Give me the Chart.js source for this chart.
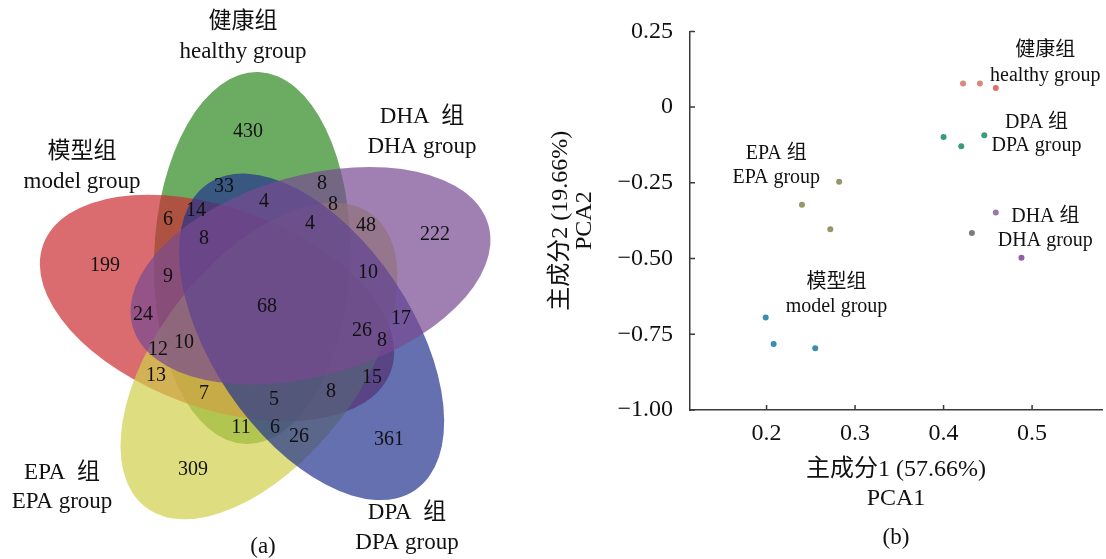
<!DOCTYPE html>
<html><head><meta charset="utf-8">
<script src="https://cdn.jsdelivr.net/npm/chart.js@4"></script>
<style>
html,body{margin:0;padding:0;background:#fff;}
#wrap{position:relative;width:1106px;height:559px;overflow:hidden;background:#fff;}
#venn{position:absolute;left:0;top:0;}
#pca{position:absolute;left:540px;top:0;}
</style></head><body>
<div id="wrap"><canvas id="venn" width="540" height="559"></canvas><canvas id="pca" width="566" height="559"></canvas></div>
<script>
// ---------------- Venn data (panel a) ----------------
const vennSetZh = ['健康组', '模型组', 'EPA  组', 'DPA  组', 'DHA  组'];
const vennSetEn = ['healthy group', 'model group', 'EPA group', 'DPA group', 'DHA group'];
// ellipse geometry in panel coordinates (drawing order: healthy, model, EPA, DPA, DHA)
const ellCx  = [252, 217, 259, 311.6, 310.5];
const ellCy  = [258, 308, 361, 336.8, 275.7];
const ellA   = [186, 185, 185, 185, 185];
const ellB   = [98, 100, 100, 100, 100];
const ellRot = [-88, 200, 128, 56, -16];
const ellColor = ['rgba(45,137,31,0.7)', 'rgba(202,45,51,0.7)', 'rgba(208,208,74,0.7)', 'rgba(34,51,142,0.7)', 'rgba(119,74,145,0.7)'];
// set-name label anchors
const setLabelX  = [243, 82, 62, 407, 422];
const setLabelY1 = [22, 152, 473, 513, 117];
const setLabelY2 = [52, 182, 502, 543, 147];
// region counts and their anchors
const vennCounts = [430, 33, 8, 8, 4, 4, 48, 222, 6, 14, 8, 199, 9, 24, 12, 10, 13, 10, 68, 26, 8, 17, 15, 7, 5, 8, 11, 6, 26, 361, 309];
const vennLabelX = [248, 224, 322, 333, 264, 310, 366, 435, 168, 196, 204, 105, 168, 143, 158, 184, 156, 368, 267, 362, 382, 401, 372, 204, 274, 331, 241, 275, 299, 389, 193];
const vennLabelY = [132, 187, 184, 205, 202, 224, 226, 235, 220, 211, 239, 266, 277, 315, 350, 343, 376, 273, 307, 331, 341, 319, 378, 394, 400, 392, 428, 428, 437, 440, 470];

// ---------------- PCA data (panel b) ----------------
const pcaGroupZh = ['健康组', 'DPA 组', 'DHA 组', 'EPA 组', '模型组'];
const pcaGroupEn = ['healthy group', 'DPA group', 'DHA group', 'EPA group', 'model group'];
const healthyPC1 = [0.422, 0.441, 0.459];
const healthyPC2 = [0.078, 0.078, 0.063];
const dpaPC1 = [0.400, 0.420, 0.446];
const dpaPC2 = [-0.099, -0.129, -0.093];
const dhaPC1 = [0.459, 0.432, 0.488];
const dhaPC2 = [-0.348, -0.416, -0.497];
const epaPC1 = [0.282, 0.240, 0.272];
const epaPC2 = [-0.246, -0.322, -0.403];
const modelPC1 = [0.199, 0.208, 0.255];
const modelPC2 = [-0.695, -0.782, -0.796];
const groupLabelX  = [0.515, 0.505, 0.515, 0.211, 0.279];
const groupLabelY1 = [0.185, -0.051, -0.362, -0.155, -0.579];
const groupLabelY2 = [0.104, -0.129, -0.440, -0.233, -0.660];
const xTicks = [0.2, 0.3, 0.4, 0.5];
const yTicks = [0.25, 0, -0.25, -0.5, -0.75, -1.0];

const F = "'Liberation Serif', 'Noto Sans CJK SC', serif";
const TXT = '#111';

// ---------------- Venn chart ----------------
const vennPlugin = {
  id: 'vennPlugin',
  beforeDatasetsDraw(chart) {
    const ctx = chart.ctx, xs = chart.scales.x, ys = chart.scales.y;
    const sx = Math.abs(xs.getPixelForValue(1) - xs.getPixelForValue(0));
    const sy = Math.abs(ys.getPixelForValue(1) - ys.getPixelForValue(0));
    ctx.save();
    for (let i = 0; i < ellCx.length; i++) {
      ctx.beginPath();
      ctx.ellipse(xs.getPixelForValue(ellCx[i]), ys.getPixelForValue(ellCy[i]),
        ellA[i] * sx, ellB[i] * sy, ellRot[i] * Math.PI / 180, 0, Math.PI * 2);
      ctx.fillStyle = ellColor[i];
      ctx.fill();
    }
    ctx.restore();
  },
  afterDatasetsDraw(chart) {
    const ctx = chart.ctx, xs = chart.scales.x, ys = chart.scales.y;
    ctx.save();
    ctx.fillStyle = TXT;
    ctx.textAlign = 'center';
    ctx.textBaseline = 'middle';
    ctx.font = "20px " + F;
    const meta = chart.getDatasetMeta(0);
    meta.data.forEach((pt, i) => ctx.fillText(String(vennCounts[i]), pt.x, pt.y));
    ctx.font = "23px " + F;
    for (let i = 0; i < vennSetZh.length; i++) {
      const px = xs.getPixelForValue(setLabelX[i]);
      ctx.fillText(vennSetZh[i], px, ys.getPixelForValue(setLabelY1[i]));
      ctx.fillText(vennSetEn[i], px, ys.getPixelForValue(setLabelY2[i]));
    }
    ctx.fillText('(a)', xs.getPixelForValue(263), ys.getPixelForValue(547));
    ctx.restore();
  }
};

new Chart(document.getElementById('venn'), {
  type: 'scatter',
  data: { datasets: [{ data: vennCounts.map((c, i) => ({ x: vennLabelX[i], y: vennLabelY[i] })), pointRadius: 0 }] },
  options: {
    responsive: false, animation: false, events: [], devicePixelRatio: 1,
    layout: { padding: 0 },
    plugins: { legend: { display: false }, tooltip: { enabled: false } },
    scales: {
      x: { type: 'linear', min: 0, max: 540, display: false },
      y: { type: 'linear', min: 0, max: 559, reverse: true, display: false }
    }
  },
  plugins: [vennPlugin]
});

// ---------------- PCA chart ----------------
const toPts = (xs, ys) => xs.map((v, i) => ({ x: v, y: ys[i] }));
const pcaPlugin = {
  id: 'pcaPlugin',
  afterDraw(chart) {
    const ctx = chart.ctx, xs = chart.scales.x, ys = chart.scales.y;
    ctx.save();
    ctx.strokeStyle = '#3a3a3a';
    ctx.lineWidth = 1.5;
    ctx.beginPath();
    xTicks.forEach(v => { const p = xs.getPixelForValue(v); ctx.moveTo(p, xs.top); ctx.lineTo(p, xs.top - 5); });
    yTicks.forEach(v => { const p = ys.getPixelForValue(v); ctx.moveTo(ys.right, p); ctx.lineTo(ys.right + 5, p); });
    ctx.stroke();
    ctx.fillStyle = TXT;
    ctx.textAlign = 'center';
    ctx.textBaseline = 'middle';
    ctx.font = "20px " + F;
    for (let i = 0; i < pcaGroupZh.length; i++) {
      const px = xs.getPixelForValue(groupLabelX[i]);
      ctx.fillText(pcaGroupZh[i], px, ys.getPixelForValue(groupLabelY1[i]));
      ctx.fillText(pcaGroupEn[i], px, ys.getPixelForValue(groupLabelY2[i]));
    }
    ctx.font = "23px " + F;
    ctx.fillText('(b)', (xs.left + xs.right) / 2, 538);
    ctx.restore();
  }
};

new Chart(document.getElementById('pca'), {
  type: 'scatter',
  data: {
    datasets: [
      { label: pcaGroupEn[0], data: toPts(healthyPC1, healthyPC2), backgroundColor: ['#d68a7e', '#d68a7e', '#d8756a'] },
      { label: pcaGroupEn[1], data: toPts(dpaPC1, dpaPC2), backgroundColor: '#3a9a80' },
      { label: pcaGroupEn[2], data: toPts(dhaPC1, dhaPC2), backgroundColor: ['#9a7aa6', '#7d7d80', '#9060a2'] },
      { label: pcaGroupEn[3], data: toPts(epaPC1, epaPC2), backgroundColor: '#96966a' },
      { label: pcaGroupEn[4], data: toPts(modelPC1, modelPC2), backgroundColor: '#3a8fae' }
    ]
  },
  options: {
    responsive: false, animation: false, events: [], devicePixelRatio: 1,
    layout: { padding: { top: 24, right: 0, bottom: 0, left: 0 } },
    elements: { point: { radius: 3, borderWidth: 0 } },
    plugins: { legend: { display: false }, tooltip: { enabled: false } },
    scales: {
      x: {
        type: 'linear', min: 0.1135, max: 0.579,
        afterBuildTicks: s => { s.ticks = xTicks.map(v => ({ value: v })); },
        afterFit: s => { s.height = 149; },
        grid: { display: false, drawTicks: false },
        border: { display: true, color: '#3a3a3a', width: 1.5 },
        ticks: { padding: 9, color: TXT, font: { family: F, size: 24 }, maxRotation: 0, autoSkip: false,
          callback: v => v.toFixed(1) },
        title: { display: true, text: ['主成分1 (57.66%)', 'PCA1'], color: TXT,
          font: { family: F, size: 24, lineHeight: '29px' }, padding: { top: 0, bottom: 45.5 } }
      },
      y: {
        type: 'linear', min: -1, max: 0.25,
        afterBuildTicks: s => { s.ticks = yTicks.map(v => ({ value: v })); },
        afterFit: s => { s.width = 150; },
        grid: { display: false, drawTicks: false },
        border: { display: true, color: '#3a3a3a', width: 1.5 },
        ticks: { padding: 17, color: TXT, font: { family: F, size: 24 }, autoSkip: false,
          callback: v => (Math.abs(v) < 1e-9 ? '0' : v.toFixed(2).replace('-', '\u2212')) },
        title: { display: true, text: ['主成分2 (19.66%)', 'PCA2'], color: TXT,
          font: { family: F, size: 24, lineHeight: '24px' }, padding: { top: 9, bottom: 0 } }
      }
    }
  },
  plugins: [pcaPlugin]
});
</script>
</body></html>
